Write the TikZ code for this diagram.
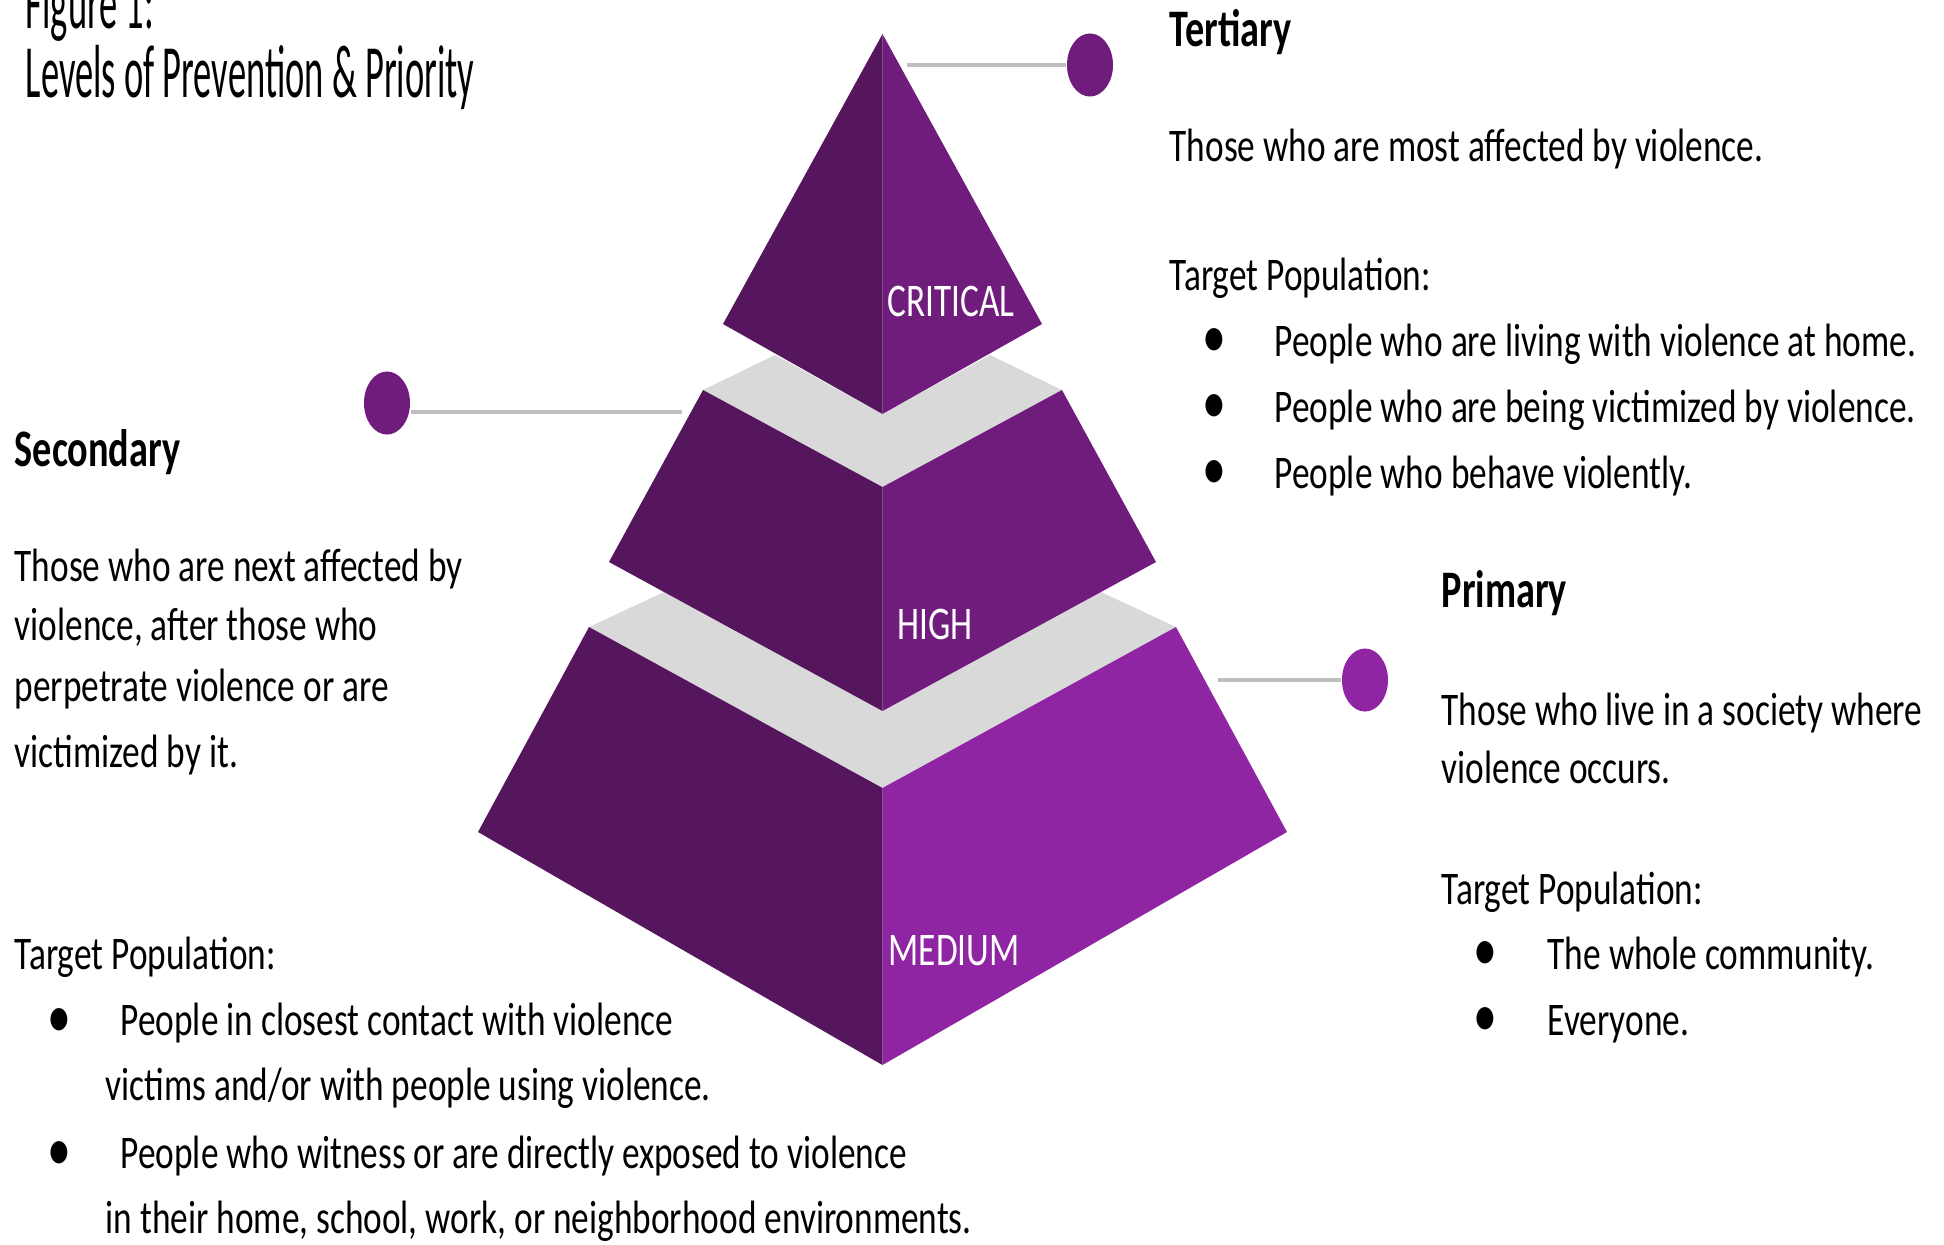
\documentclass[tikz,border=0pt]{standalone}
\usepackage{fontspec}
\setmainfont{Carlito}
\newfontfamily\bodyfont[FakeStretch=0.755]{Carlito}
\newfontfamily\headfont[FakeStretch=0.725]{Carlito}
\newfontfamily\titlefont[FakeStretch=0.485]{Carlito}
\usetikzlibrary{shapes.geometric}
\definecolor{plumdark}{HTML}{55165E}
\definecolor{plummid}{HTML}{701C7D}
\definecolor{plumlight}{HTML}{8F25A2}
\definecolor{topgray}{HTML}{D9D9D9}
\definecolor{leadgray}{HTML}{BFBFBF}
\tikzset{
	caption/.style={anchor=base west, inner sep=0pt, font=\titlefont\fontsize{21.4}{24}\selectfont},
	heading/.style={anchor=base west, inner sep=0pt, font=\headfont\bfseries\fontsize{15}{18}\selectfont},
	body/.style={anchor=base west, inner sep=0pt, font=\bodyfont\fontsize{13.3}{16}\selectfont},
	bul/.style={anchor=center, inner sep=0pt, font=\bodyfont\fontsize{18}{18}\selectfont},
	tier/.style={anchor=base west, inner sep=0pt, text=white, font=\bodyfont\fontsize{13.3}{16}\selectfont},
	ball/.style={ellipse, inner sep=0pt, minimum width=0.46cm, minimum height=0.63cm},
	lead/.style={draw=leadgray, line width=0.9pt},
}
\begin{document}
\begin{tikzpicture}[x=0.01cm, y=-0.01cm]
			\useasboundingbox (0,0) rectangle (1944,1244);
			%\draw[help lines, color=gray!30, dashed] (0,0) grid[step=100] (1944,1244);
			% bottom tier
			\fill[topgray] (589,627) -- (664,592) -- (882.5,711) -- (1101,592) -- (1176,627) -- (882.5,788) -- cycle;
			\fill[plumdark] (589,627) -- (882.5,788) -- (882.5,1065) -- (478,832) -- cycle;
			\fill[plumlight] (882.5,788) -- (1176,627) -- (1287,832) -- (882.5,1065) -- cycle;
			% middle tier
			\fill[topgray] (703,390) -- (775,355) -- (882.5,414) -- (990,355) -- (1062,390) -- (882.5,487) -- cycle;
			\fill[plumdark] (703,390) -- (882.5,487) -- (882.5,711) -- (609,562) -- cycle;
			\fill[plummid] (882.5,487) -- (1062,390) -- (1156,562) -- (882.5,711) -- cycle;
			% top tier
			\fill[plumdark] (882.5,34) -- (882.5,414) -- (723,324) -- cycle;
			\fill[plummid] (882.5,34) -- (1042,324) -- (882.5,414) -- cycle;
			\node[tier] (critical) at (887,316) {CRITICAL};
			\node[tier] (high) at (897,639) {HIGH};
			\node[tier] (medium) at (888,965) {MEDIUM};
			% dots and leaders
			\node[ball, fill=plummid] (terdot) at (1090,65) {};
			\node[ball, fill=plummid] (secdot) at (387,403) {};
			\node[ball, fill=plumlight] (pridot) at (1365,680) {};
			\coordinate (terend) at (907,65);
			\coordinate (secend) at (682,412);
			\coordinate (priend) at (1218,680);
			\draw[lead] (terend) -- (terdot);
			\draw[lead] (secend) -- (secdot.east |- secend);
			\draw[lead] (priend) -- (pridot);
			% title
			\node[caption] (figno) at (25,28) {Figure 1:};
			\node[caption] (title) at (25,97) {Levels of Prevention \& Priority};
			% tertiary
			\node[heading] (terhead) at (1169,46) {Tertiary};
			\node[body] (tertext) at (1169,161) {Those who are most affected by violence.};
			\node[body] (tertarget) at (1169,290) {Target Population:};
			\node[bul] (terb1) at (1214,343) {•};
			\node[bul] (terb2) at (1214,409) {•};
			\node[bul] (terb3) at (1214,475) {•};
			\node[body] (ter1) at (1274,356) {People who are living with violence at home.};
			\node[body] (ter2) at (1274,422) {People who are being victimized by violence.};
			\node[body] (ter3) at (1274,488) {People who behave violently.};
			% secondary
			\node[heading] (sechead) at (14,466) {Secondary};
			\node[body] (sectext1) at (14,581) {Those who are next affected by};
			\node[body] (sectext2) at (14,640) {violence, after those who};
			\node[body] (sectext3) at (14,701) {perpetrate violence or are};
			\node[body] (sectext4) at (14,767) {victimized by it.};
			\node[body] (sectarget) at (14,969) {Target Population:};
			\node[bul] (secb1) at (59,1023) {•};
			\node[bul] (secb2) at (59,1156) {•};
			\node[body] (sec1a) at (120,1035) {People in closest contact with violence};
			\node[body] (sec1b) at (105,1100) {victims and/or with people using violence.};
			\node[body] (sec2a) at (120,1168) {People who witness or are directly exposed to violence};
			\node[body] (sec2b) at (105,1233) {in their home, school, work, or neighborhood environments.};
			% primary
			\node[heading] (prihead) at (1441,607) {Primary};
			\node[body] (pritext1) at (1441,725) {Those who live in a society where};
			\node[body] (pritext2) at (1441,783) {violence occurs.};
			\node[body] (pritarget) at (1441,904) {Target Population:};
			\node[bul] (prib1) at (1485,956) {•};
			\node[bul] (prib2) at (1485,1022) {•};
			\node[body] (pri1) at (1547,969) {The whole community.};
			\node[body] (pri2) at (1547,1035) {Everyone.};
\end{tikzpicture}
\end{document}
